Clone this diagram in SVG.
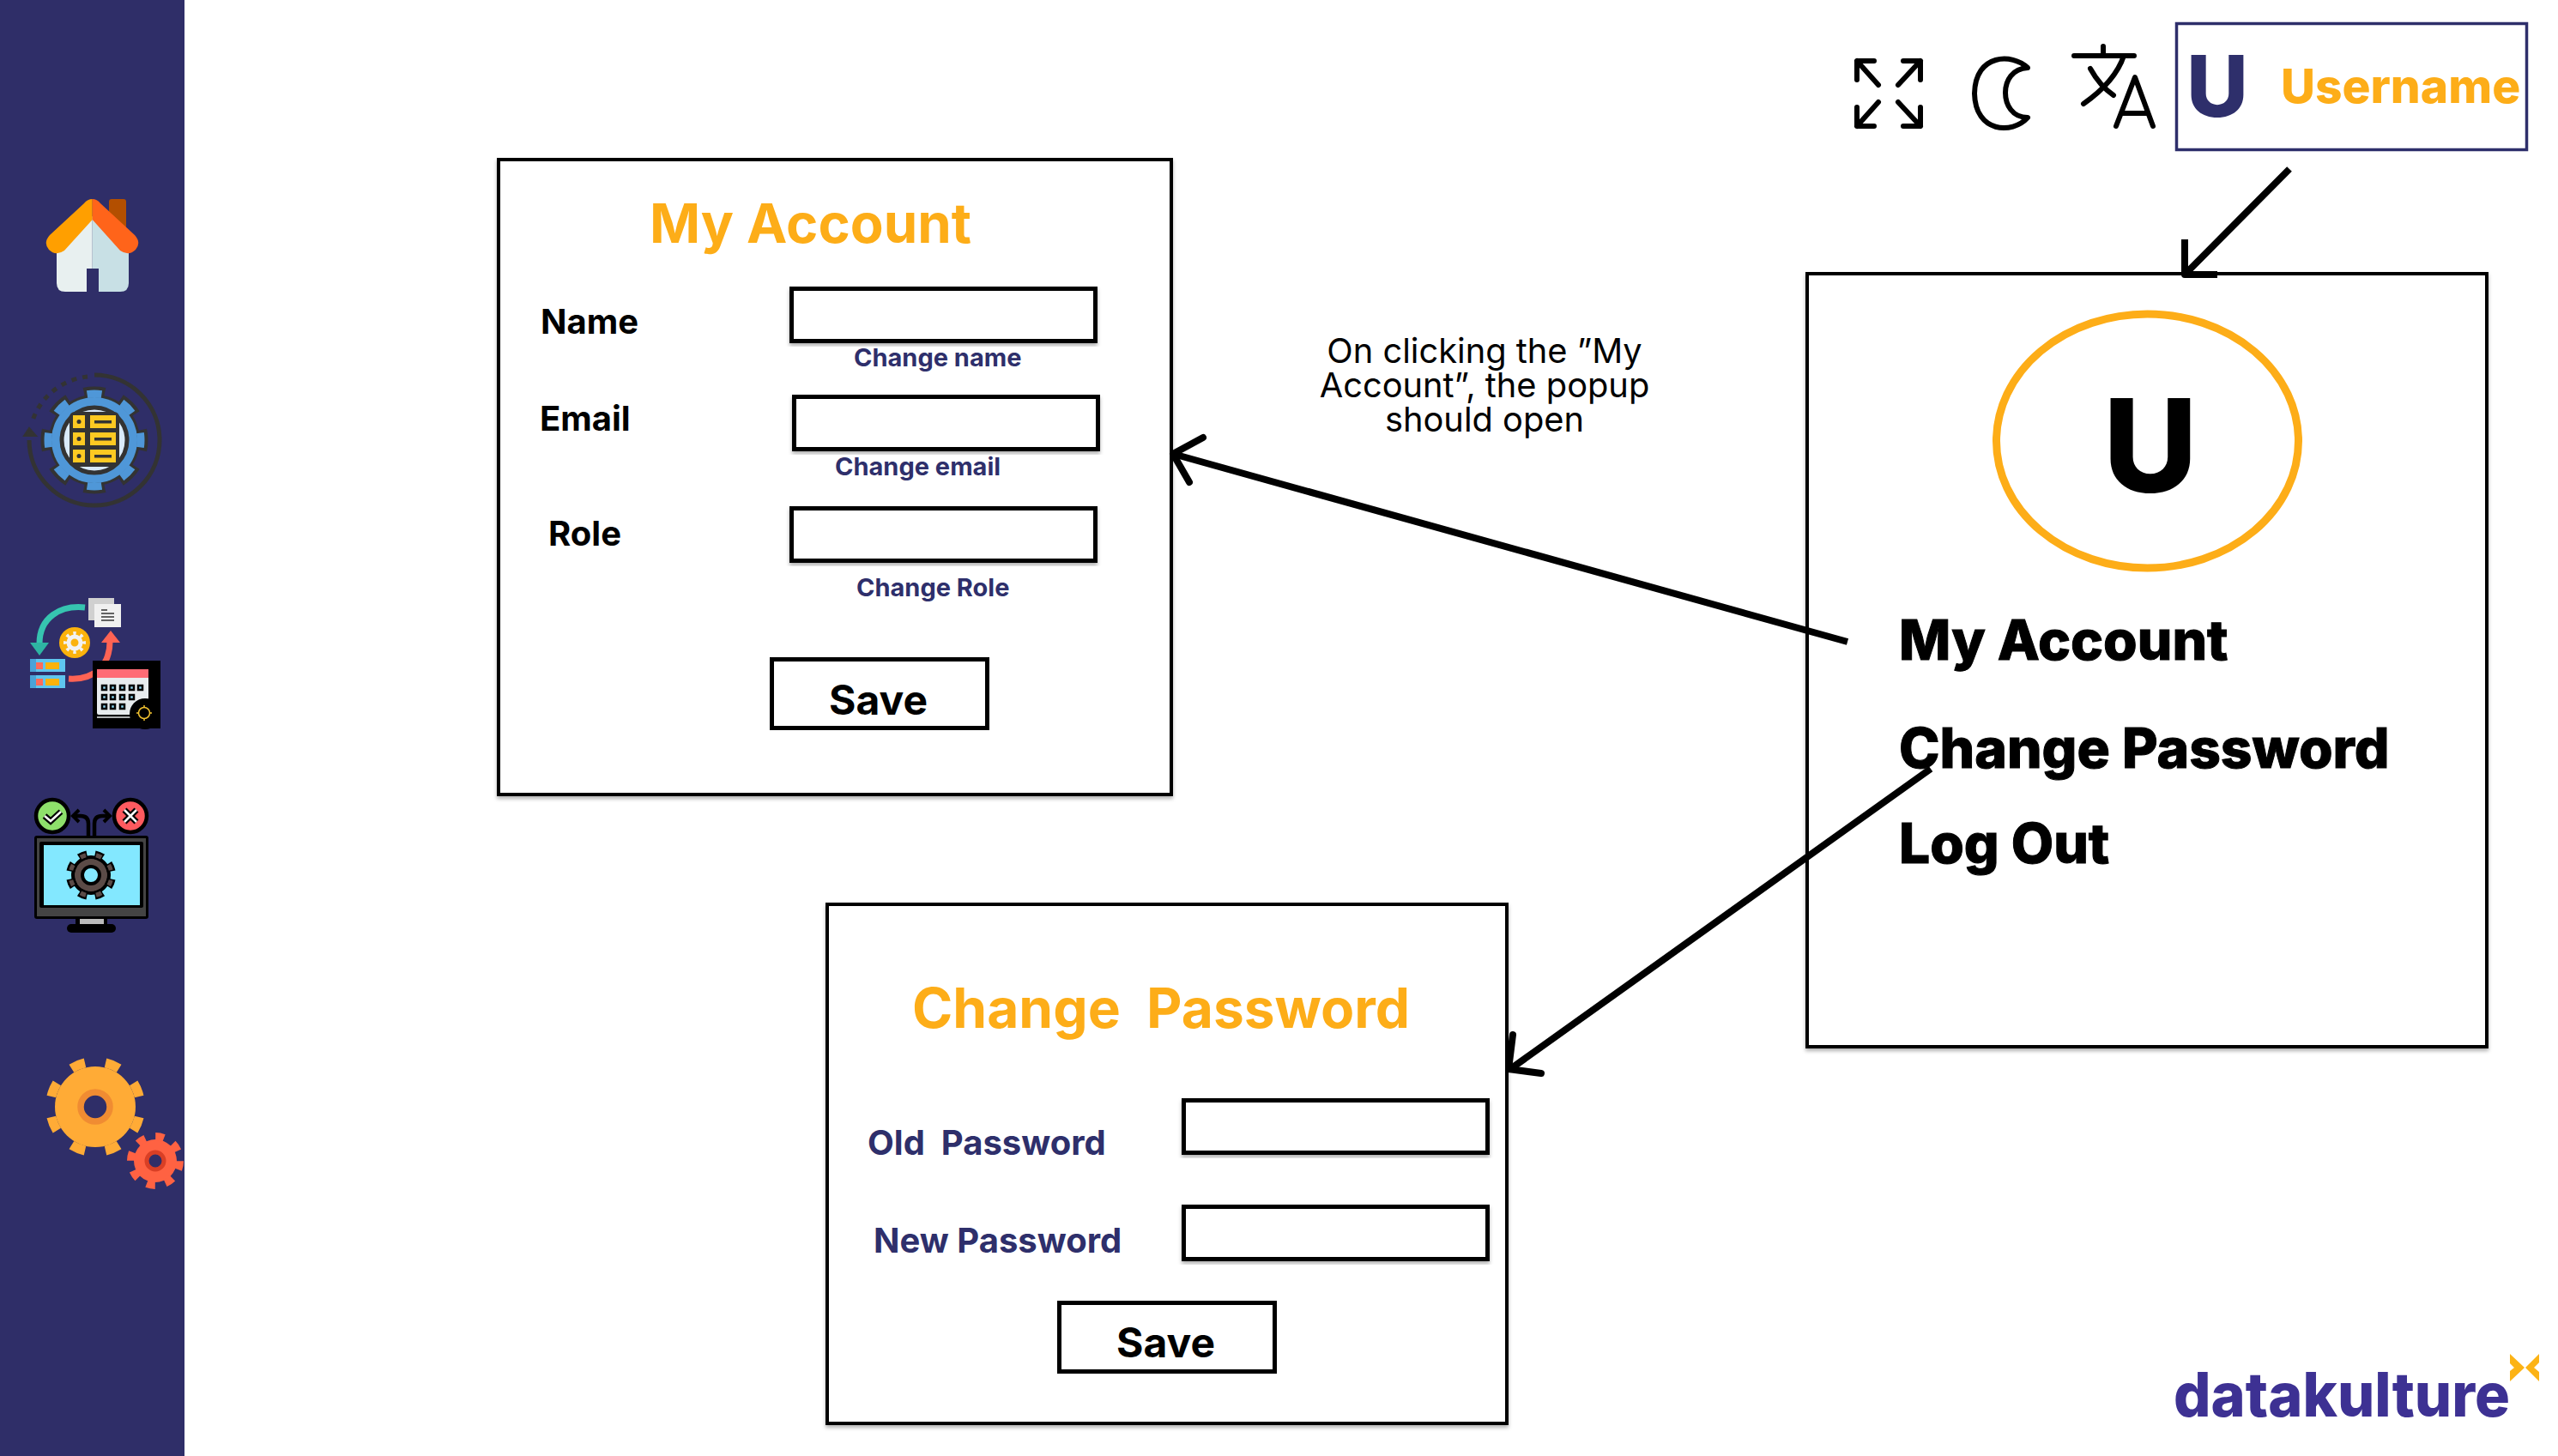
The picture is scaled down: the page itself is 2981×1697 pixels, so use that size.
<svg xmlns="http://www.w3.org/2000/svg" width="2981" height="1697" viewBox="0 0 2981 1697">
<defs>
<style>
text{font-family:Inter,"Liberation Sans",sans-serif}
.box{fill:#fff;stroke:#000;stroke-width:4;filter:url(#sh)}
.inp{fill:#fff;stroke:#000;stroke-width:5;filter:url(#sh)}
.org{fill:#fdad18;font-weight:700}
.nav{fill:#2e2f6b;font-weight:700}
.blk{fill:#000;font-weight:700}
.menu{fill:#000;font-weight:800;font-size:64px;stroke:#000;stroke-width:1}
.icon{fill:none;stroke:#000;stroke-width:6;stroke-linecap:round;stroke-linejoin:round}
.conn{fill:none;stroke:#000;stroke-width:8;stroke-linecap:round;stroke-linejoin:round}
</style>
<filter id="sh" x="-5%" y="-5%" width="110%" height="115%"><feDropShadow dx="0" dy="3" stdDeviation="2" flood-color="#000" flood-opacity=".3"/></filter>
</defs>
<rect width="2981" height="1697" fill="#fff"/>
<rect id="sidebar" width="215" height="1697" fill="#2f2e68"/>

<g id="icon-home">
<rect x="127" y="232" width="20" height="40" rx="3" fill="#b34f00"/>
<path d="M66 290L107.700 252V340H76Q66 340 66 330Z" fill="#e8f0f0"/>
<path d="M150 290L107.700 252V340H140Q150 340 150 330Z" fill="#c8e0e5"/>
<rect x="101" y="313" width="14" height="27" fill="#2f2e68"/>
<path d="M107.700 232Q102 232 98 237L58 274Q50 283 57 291Q65 299 75 292L107.700 256Z" fill="#ff9f00"/>
<path d="M107.700 232Q113 232 117 237L157 274Q165 283 158 291Q150 299 140 292L107.700 256Z" fill="#ff641a"/>
</g>

<g id="icon-data-settings">
<path d="M110 437A76 76 0 1 1 34 513" fill="none" stroke="#333" stroke-width="5"/>
<path d="M28 508L34 499L42 508Z" fill="#333" stroke="#333" stroke-width="2"/>
<path d="M102 439A76 76 0 0 0 38 490" fill="none" stroke="#333" stroke-width="5" stroke-dasharray="6 7"/>
<circle cx="110" cy="513" r="53" fill="#333"/>
<circle cx="110" cy="513" r="56" fill="none" stroke="#333" stroke-width="13" pathLength="80" stroke-dasharray="5.500 4.500" stroke-dashoffset="2.750"/>
<circle cx="110" cy="513" r="50" fill="#4f97d8"/>
<circle cx="110" cy="513" r="54" fill="none" stroke="#4f97d8" stroke-width="9" pathLength="80" stroke-dasharray="4 6" stroke-dashoffset="2"/>
<circle cx="110" cy="513" r="38" fill="#d9eafa" stroke="#333" stroke-width="5"/>
<rect x="81" y="480" width="58" height="64" rx="6" fill="#333"/>
<g fill="#fdc922">
<rect x="85" y="484" width="14" height="15"/><rect x="105" y="484" width="30" height="15"/>
<rect x="85" y="504" width="14" height="15"/><rect x="105" y="504" width="30" height="15"/>
<rect x="85" y="524" width="14" height="15"/><rect x="105" y="524" width="30" height="15"/>
</g>
<g fill="#333">
<circle cx="92" cy="491.500" r="2.500"/><circle cx="92" cy="511.500" r="2.500"/><circle cx="92" cy="531.500" r="2.500"/>
<rect x="110" y="490" width="20" height="3.500"/><rect x="110" y="510" width="20" height="3.500"/><rect x="110" y="530" width="20" height="3.500"/>
</g>
</g>

<g id="icon-schedule">
<path d="M99 708C70 705 46 720 46 750" fill="none" stroke="#36c4b0" stroke-width="7"/>
<path d="M35 749H57L46 764Z" fill="#2eb5a3"/>
<path d="M80 791C110 793 128 775 128 748" fill="none" stroke="#ff6354" stroke-width="7"/>
<path d="M118 749H140L129 735Z" fill="#ff6354"/>
<rect x="103" y="697" width="30" height="26" fill="#d0d0d0"/>
<rect x="110" y="704" width="31" height="27" fill="#f0f0f0"/>
<path d="M118 711H125M118 715H133M118 719H133M118 723H133" stroke="#333" stroke-width="1.500"/>
<circle cx="87" cy="749" r="18" fill="#fbb20c"/>
<circle cx="87" cy="749" r="7" fill="none" stroke="#f2f2f2" stroke-width="5"/>
<circle cx="87" cy="749" r="11" fill="none" stroke="#f2f2f2" stroke-width="4" pathLength="80" stroke-dasharray="4 6" stroke-dashoffset="2"/>
<rect x="35" y="768" width="41" height="15" fill="#5fc5ee"/><rect x="35" y="787" width="41" height="15" fill="#5fc5ee"/>
<rect x="35" y="768" width="7" height="15" fill="#4aa3d8"/><rect x="35" y="787" width="7" height="15" fill="#4aa3d8"/>
<rect x="42" y="772" width="8" height="8" fill="#ff6b5a"/><rect x="42" y="791" width="8" height="8" fill="#ff6b5a"/>
<rect x="53" y="772" width="16" height="8" fill="#fbb20c"/><rect x="53" y="791" width="16" height="8" fill="#fbb20c"/>
<rect x="108" y="770" width="79" height="79" fill="#000"/>
<rect x="113" y="780" width="60" height="53" rx="2" fill="#e8ecee"/>
<rect x="113" y="780" width="60" height="10" fill="#ff6b75"/>
<path d="M113 836H153" stroke="#e8ecee" stroke-width="1.500"/>
<g fill="#8fd8f2" stroke="#000" stroke-width="2.500">
<rect x="119" y="799" width="5" height="5"/><rect x="129" y="799" width="5" height="5"/><rect x="140" y="799" width="5" height="5"/><rect x="151" y="799" width="5" height="5"/><rect x="161" y="799" width="5" height="5"/>
<rect x="119" y="810" width="5" height="5"/><rect x="129" y="810" width="5" height="5"/><rect x="140" y="810" width="5" height="5"/><rect x="151" y="810" width="5" height="5"/>
<rect x="119" y="821" width="5" height="5"/><rect x="129" y="821" width="5" height="5"/><rect x="140" y="821" width="5" height="5"/>
</g>
<circle cx="169" cy="832" r="18" fill="#000"/>
<rect x="152" y="834" width="35" height="15" fill="#000"/>
<circle cx="168" cy="831" r="6.500" fill="#000" stroke="#f2c230" stroke-width="1.500"/>
<path d="M168 822V825M168 837V840M159 831H162M174 831H177" stroke="#f2c230" stroke-width="1.500"/>
</g>

<g id="icon-monitor">
<path d="M103 975V960Q103 951 94 951H88M110 975V960Q110 951 119 951H125" fill="none" stroke="#000" stroke-width="4.500"/>
<path d="M92 944L85 951L92 958M121 944L128 951L121 958" fill="none" stroke="#000" stroke-width="4"/>
<circle cx="61" cy="951" r="19" fill="#8ee06b" stroke="#000" stroke-width="4.500"/>
<path d="M52 951L59 957L71 946" fill="none" stroke="#000" stroke-width="7"/>
<path d="M52 951L59 957L71 946" fill="none" stroke="#fff" stroke-width="2.500"/>
<circle cx="152" cy="951" r="19" fill="#ff5a5f" stroke="#000" stroke-width="4.500"/>
<path d="M145 944L159 958M159 944L145 958" stroke="#000" stroke-width="7"/>
<path d="M145 944L159 958M159 944L145 958" stroke="#fff" stroke-width="2.500"/>
<rect x="88" y="1068" width="37" height="12" fill="#000"/>
<rect x="93" y="1071" width="28" height="6" fill="#bbb"/>
<rect x="78" y="1077" width="57" height="10" rx="5" fill="#000"/>
<rect x="40" y="974" width="133" height="97" rx="3" fill="#000"/>
<rect x="43" y="977" width="127" height="91" fill="#444"/>
<rect x="46" y="981" width="121" height="77" rx="2" fill="#000"/>
<rect x="51" y="985" width="112" height="70" fill="#83e8ff"/>
<circle cx="106" cy="1020" r="21" fill="#5b4b47" stroke="#000" stroke-width="4"/>
<circle cx="106" cy="1020" r="24" fill="none" stroke="#000" stroke-width="10" pathLength="80" stroke-dasharray="5 5" stroke-dashoffset="-2.500"/>
<circle cx="106" cy="1020" r="24" fill="none" stroke="#5b4b47" stroke-width="5" pathLength="80" stroke-dasharray="3.500 6.500" stroke-dashoffset="-3.250"/>
<circle cx="106" cy="1020" r="10" fill="#83e8ff" stroke="#000" stroke-width="4"/>
</g>

<g id="icon-settings">
<circle cx="111" cy="1290" r="47" fill="#ffab36"/>
<circle cx="111" cy="1290" r="52.500" fill="none" stroke="#ffab36" stroke-width="11" pathLength="80" stroke-dasharray="4.100 5.900" stroke-dashoffset="-2.950"/>
<circle cx="111" cy="1290" r="17" fill="#2f2e68" stroke="#f08c32" stroke-width="7.500"/>
<circle cx="181" cy="1353" r="25" fill="#ff6242"/>
<circle cx="181" cy="1353" r="28.500" fill="none" stroke="#ff6242" stroke-width="9" pathLength="80" stroke-dasharray="4.500 5.500" stroke-dashoffset="-0.100"/>
<circle cx="181" cy="1353" r="10" fill="#2f2e68" stroke="#d93f25" stroke-width="5"/>
</g>

<g id="toolbar-expand" class="icon">
<path d="M2184 71H2164V93M2164 71L2189 99M2218 71H2238V93M2238 71L2212 99M2184 147H2164V125M2164 147L2189 119M2218 147H2238V125M2238 147L2212 119"/>
</g>
<g id="toolbar-theme" class="icon">
<path d="M2363 79C2345 62 2302 62 2301 109C2302 155 2345 157 2363 137C2345 137 2337 122 2337 108C2337 94 2345 80 2363 79Z"/>
</g>
<g id="toolbar-translate" class="icon">
<path d="M2417 65H2487M2451 54V65M2475 65Q2465 95 2428 121M2436 80Q2447 100 2463 111M2466 147L2488 90L2509 147M2474 132H2501"/>
</g>
<g id="user-chip">
<rect x="2536.500" y="27.500" width="408" height="147" fill="#fff" stroke="#2e2f6b" stroke-width="3.500"/>
<text x="2548" y="136" font-size="99" font-weight="800" fill="#2e2f6b">U</text>
<text x="2658" y="120" font-size="55" class="org" style="font-weight:800">Username</text>
</g>

<g id="my-account-popup">
<rect class="box" x="581" y="186" width="784" height="740"/>
<text x="757" y="283" font-size="63.500" class="org">My Account</text>
<text x="630" y="389" font-size="40" class="blk">Name</text>
<text x="629" y="502" font-size="40" class="blk">Email</text>
<text x="639" y="636" font-size="40" class="blk">Role</text>
<rect class="inp" x="922.500" y="336.500" width="354" height="61"/>
<rect class="inp" x="925.500" y="462.500" width="354" height="61"/>
<rect class="inp" x="922.500" y="592.500" width="354" height="61"/>
<text x="995" y="427" font-size="29" class="nav">Change name</text>
<text x="973" y="554" font-size="29" class="nav">Change email</text>
<text x="998" y="695" font-size="29" class="nav">Change Role</text>
<rect x="899.500" y="768.500" width="251" height="80" fill="#fff" stroke="#000" stroke-width="5"/>
<text x="966" y="833" font-size="48" class="blk">Save</text>
</g>

<g id="user-menu">
<rect class="box" x="2106" y="319" width="792" height="901"/>
<ellipse cx="2502.500" cy="514" rx="176" ry="148" fill="none" stroke="#fdad18" stroke-width="9"/>
<text x="2451" y="574" font-size="151" font-weight="800" fill="#000">U</text>
<text x="2213" y="769" class="menu">My Account</text>
<text x="2213" y="895" class="menu">Change Password</text>
<text x="2213" y="1006" class="menu">Log Out</text>
</g>

<g id="change-password-popup">
<rect class="box" x="964" y="1054" width="792" height="605"/>
<text x="1063" y="1198" font-size="64" class="org" xml:space="preserve">Change  Password</text>
<text x="1011" y="1346" font-size="40" class="nav" xml:space="preserve">Old  Password</text>
<text x="1018" y="1460" font-size="40" class="nav">New Password</text>
<rect class="inp" x="1379.500" y="1282.500" width="354" height="61"/>
<rect class="inp" x="1379.500" y="1406.500" width="354" height="61"/>
<rect x="1234.500" y="1518.500" width="251" height="80" fill="#fff" stroke="#000" stroke-width="5"/>
<text x="1301" y="1582" font-size="48" class="blk">Save</text>
</g>

<g id="note" font-size="39.800" text-anchor="middle" fill="#000">
<text x="1730" y="422.500">On clicking the ”My</text>
<text x="1730" y="462.500">Account”, the popup</text>
<text x="1730" y="502.500">should open</text>
</g>

<g id="connectors">
<path class="conn" d="M2668 197L2546 320M2546 279V320H2584" style="stroke-linecap:butt"/>
<path class="conn" d="M2153 748L1367 529" style="stroke-linecap:butt"/>
<path class="conn" d="M1402 510L1367 529L1386 562"/>
<path class="conn" d="M2250 896L1760 1246" style="stroke-linecap:butt"/>
<path class="conn" d="M1763 1206L1758 1246L1796 1251"/>
</g>

<g id="logo">
<text x="2533" y="1651" font-size="71" font-weight="800" fill="#3d3193" textLength="392" lengthAdjust="spacingAndGlyphs">datakulture</text>
<path d="M2925 1578L2942 1594L2925 1610V1598L2930 1594L2925 1589ZM2959 1578L2943 1594L2959 1610V1599L2953 1594L2959 1588Z" fill="#fcb315"/>
</g>
</svg>
